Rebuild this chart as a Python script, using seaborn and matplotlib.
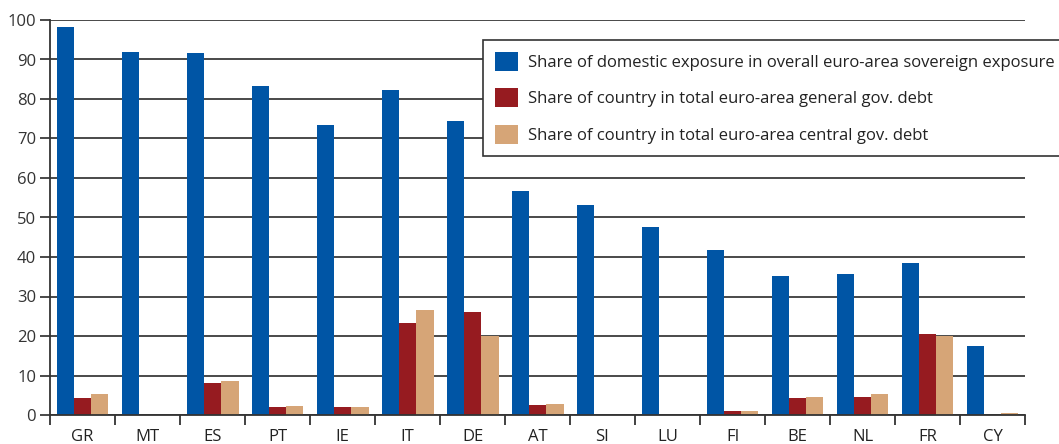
import matplotlib
matplotlib.use("Agg")
import matplotlib.pyplot as plt
import seaborn as sns
import pandas as pd
import numpy as np
from matplotlib.patches import Patch

countries = ["GR", "MT", "ES", "PT", "IE", "IT", "DE", "AT", "SI", "LU", "FI", "BE", "NL", "FR", "CY"]
domestic = [98.2, 92.0, 91.6, 83.3, 73.4, 82.3, 74.5, 56.6, 53.1, 47.7, 41.7, 35.3, 35.8, 38.6, 17.5]
general_debt = [4.2, 0.0, 8.2, 2.1, 1.9, 23.4, 26.2, 2.6, 0.0, 0.0, 1.1, 4.4, 4.6, 20.4, 0.0]
central_debt = [5.4, 0.0, 8.5, 2.4, 2.1, 26.5, 20.1, 2.9, 0.0, 0.0, 1.1, 4.6, 5.2, 19.9, 0.4]
series_names = [
    "Share of domestic exposure in overall euro-area sovereign exposure",
    "Share of country in total euro-area general gov. debt",
    "Share of country in total euro-area central gov. debt",
]
colors = ["#0055A5", "#961B20", "#D6A577"]

df = pd.DataFrame({
    "country": countries * 3,
    "value": domestic + general_debt + central_debt,
    "series": [series_names[0]] * 15 + [series_names[1]] * 15 + [series_names[2]] * 15,
})

sns.set_theme(style="white")
plt.rcParams["font.family"] = ["Open Sans", "DejaVu Sans"]

fig = plt.figure(figsize=(10.59, 4.44), dpi=100)
ax = fig.add_axes([50 / 1059, 29 / 444, 975 / 1059, 395 / 444])

sns.barplot(data=df, x="country", y="value", hue="series", order=countries,
            hue_order=series_names, palette=colors, width=0.8, saturation=1,
            errorbar=None, ax=ax, legend=False, linewidth=0)

ax.set_ylim(0, 100)
ax.set_xlim(-0.5, len(countries) - 0.5)
ax.set_yticks(np.arange(0, 101, 10))
ax.yaxis.grid(True, color="#3a3a3a", linewidth=1.3)
ax.set_axisbelow(True)
ax.set_xlabel("")
ax.set_ylabel("")
for s in ["top", "right"]:
    ax.spines[s].set_visible(False)
for s in ["left", "bottom"]:
    ax.spines[s].set_color("#333333")
    ax.spines[s].set_linewidth(1.3)

ax.tick_params(axis="y", length=7, width=1.3, color="#3a3a3a", labelsize=12,
               labelcolor="#333333", pad=3, left=True)
ax.tick_params(axis="x", which="major", length=0, labelsize=12, labelcolor="#222222", pad=10)
ax.set_xticks(np.arange(-0.5, len(countries), 1), minor=True)
ax.tick_params(axis="x", which="minor", length=7, width=1.3, color="#333333", bottom=True)

handles = [Patch(facecolor=c, edgecolor="none") for c in colors]
leg = fig.legend(handles, series_names, loc="upper left",
                 bbox_to_anchor=(483 / 1059, 1 - 40 / 444),
                 frameon=True, fancybox=False, framealpha=1,
                 edgecolor="#333333", fontsize=12.0, handlelength=1.35,
                 handleheight=1.35, labelspacing=1.05, borderpad=0.72,
                 handletextpad=0.65, borderaxespad=0)
leg.get_frame().set_linewidth(1.2)
for t in leg.get_texts():
    t.set_color("#222222")

fig.savefig("out.png", dpi=100)
